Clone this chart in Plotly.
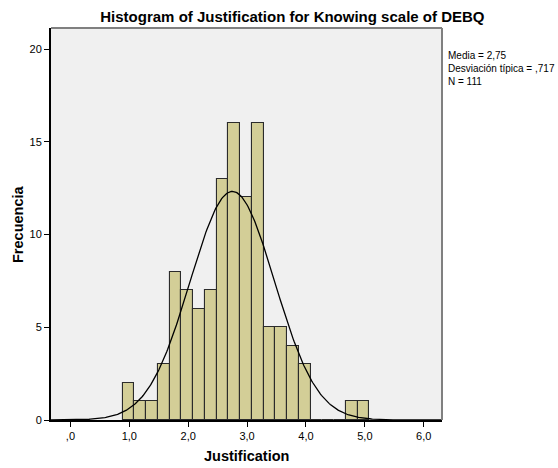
import numpy as np
import plotly.graph_objects as go

# Data
bin_start = 0.886
bin_width = 0.1996
counts = [2, 1, 1, 3, 8, 7, 6, 7, 13, 16, 12, 16, 5, 5, 4, 3, 0, 0, 0, 1, 1]
mean_val = 2.75
sd_val = 0.717
n_val = 111
x_tickvals = [0, 1, 2, 3, 4, 5, 6]
x_ticktext = [",0", "1,0", "2,0", "3,0", "4,0", "5,0", "6,0"]
y_tickvals = [0, 5, 10, 15, 20]
x_range = [-0.33, 6.31]
y_range = [0, 21.14]

centers = [bin_start + bin_width * (i + 0.5) for i in range(len(counts))]

xs = np.linspace(x_range[0], x_range[1], 400)
ys = n_val * bin_width / (sd_val * np.sqrt(2 * np.pi)) * np.exp(-0.5 * ((xs - mean_val) / sd_val) ** 2)

FONT = "Arial, Liberation Sans, sans-serif"

fig = go.Figure()
fig.add_trace(go.Bar(
    x=centers, y=counts, width=bin_width,
    marker=dict(color="#D3CE97", line=dict(color="#2b2b2b", width=1.1)),
    hoverinfo="x+y",
))
fig.add_trace(go.Scatter(
    x=xs, y=ys, mode="lines",
    line=dict(color="#000000", width=1.3),
    hoverinfo="skip",
))

fig.update_layout(
    width=558, height=468,
    margin=dict(l=51, r=116, t=28, b=48, autoexpand=False),
    paper_bgcolor="white", plot_bgcolor="#F0F0F0",
    showlegend=False, bargap=0,
    font=dict(family=FONT, color="#000000", size=11),
    title=dict(text="<b>Histogram of Justification for Knowing scale of DEBQ</b>",
               x=0.524, xanchor="center", y=0.964, yanchor="middle",
               font=dict(family=FONT, size=15, color="#000000")),
    xaxis=dict(range=x_range, tickvals=x_tickvals, ticktext=x_ticktext, automargin=False,
               showgrid=False, zeroline=False, showline=True, linecolor="#000000", linewidth=2,
               ticks="outside", ticklen=5, tickwidth=1, tickcolor="#000000",
               tickfont=dict(size=11, color="#000000")),
    yaxis=dict(range=y_range, tickvals=y_tickvals, automargin=False,
               showgrid=False, zeroline=False, showline=True, linecolor="#000000", linewidth=2,
               ticks="outside", ticklen=5, tickwidth=1, tickcolor="#000000",
               tickfont=dict(size=11, color="#000000")),
    shapes=[
        dict(type="line", xref="paper", yref="paper", x0=0, x1=1, y0=1, y1=1,
             line=dict(color="#808080", width=2)),
        dict(type="line", xref="paper", yref="paper", x0=1, x1=1, y0=0, y1=1,
             line=dict(color="#808080", width=2)),
    ],
    annotations=[
        dict(text=f"Media = 2,75<br>Desviación típica = ,717<br>N = {n_val}",
             xref="paper", yref="paper", x=1.0, y=0.95, xanchor="left", yanchor="top",
             xshift=4, showarrow=False, align="left",
             font=dict(family=FONT, size=10, color="#000000")),
        dict(text="<b>Justification</b>", xref="paper", yref="paper", x=0.5, y=0,
             yshift=-36, xanchor="center", yanchor="middle", showarrow=False,
             font=dict(family=FONT, size=14.5, color="#000000")),
        dict(text="<b>Frecuencia</b>", xref="paper", yref="paper", x=0, y=0.5,
             xshift=-33, xanchor="center", yanchor="middle", textangle=-90, showarrow=False,
             font=dict(family=FONT, size=14.5, color="#000000")),
    ],
)

fig.write_html("out.html", config={"displayModeBar": False},
               post_script="document.body.style.margin='0';document.body.style.padding='0';document.body.style.overflow='hidden';")
